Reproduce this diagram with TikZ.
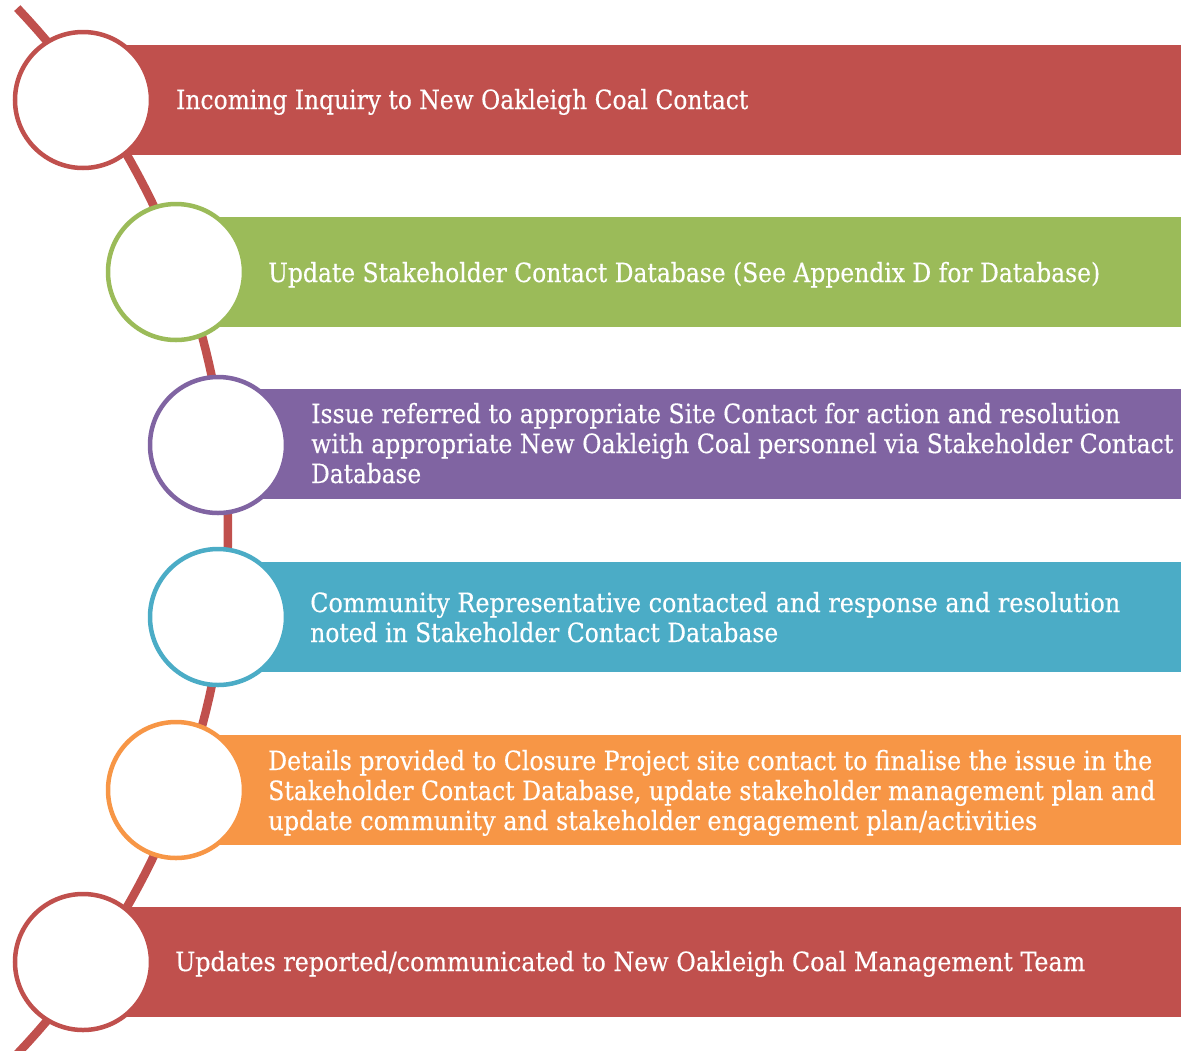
\documentclass[tikz,border=0pt]{standalone}
\usepackage{fontspec}
\usepackage{graphicx}
\setmainfont[FakeBold=0.4]{DejaVu Serif Condensed}
% stretch a line of text horizontally to a given width (in pt), keeping its height
\newcommand\fitl[2]{\resizebox{#1pt}{\height}{#2}}
\definecolor{cRed}{HTML}{C0504D}
\definecolor{cGreen}{HTML}{9BBB59}
\definecolor{cPurple}{HTML}{8064A2}
\definecolor{cAqua}{HTML}{4BACC6}
\definecolor{cOrange}{HTML}{F79646}
\begin{document}
\begin{tikzpicture}[x=1pt,y=-1pt,
  bar/.style={fill=#1,draw=none},
  ring/.style={circle,draw=#1,line width=4.5pt,fill=white,minimum size=136pt,inner sep=0pt},
  txt/.style={text=white,anchor=base west,inner sep=0pt,font=\fontsize{26.5}{30}\selectfont},
  spine/.style={draw=cRed,line width=8.5pt}]
\useasboundingbox (0,0) rectangle (1181,1050);

% the curved spine running behind all the circles
\draw[spine] plot[domain=-42.5:42.5,samples=80] ({-574+802*cos(\x)},{531+774*sin(\x)});

% coloured bars
\fill[bar=cRed]    (84,45)   rectangle (1181,155);
\fill[bar=cGreen]  (176,217) rectangle (1181,327);
\fill[bar=cPurple] (218,389) rectangle (1181,499);
\fill[bar=cAqua]   (218,562) rectangle (1181,672);
\fill[bar=cOrange] (176,735) rectangle (1181,845);
\fill[bar=cRed]    (84,907)  rectangle (1181,1017);

% circles
\node[ring=cRed]    (c1) at (83,100)  {};
\node[ring=cGreen]  (c2) at (176,272) {};
\node[ring=cPurple] (c3) at (218,445) {};
\node[ring=cAqua]   (c4) at (218,617) {};
\node[ring=cOrange] (c5) at (176,790) {};
\node[ring=cRed]    (c6) at (83,962)  {};

% step texts
\node[txt] (t1) at (176,109) {\fitl{572}{Incoming Inquiry to New Oakleigh Coal Contact}};

\node[txt] (t2) at (268,282) {\fitl{832}{Update Stakeholder Contact Database (See Appendix D for Database)}};

\node[txt] (t3a) at (311,423) {\fitl{809}{Issue referred to appropriate Site Contact for action and resolution}};
\node[txt] (t3b) at (311,453) {\fitl{862}{with appropriate New Oakleigh Coal personnel via Stakeholder Contact}};
\node[txt] (t3c) at (311,483) {\fitl{110}{Database}};

\node[txt] (t4a) at (310,612) {\fitl{810}{Community Representative contacted and response and resolution}};
\node[txt] (t4b) at (310,642) {\fitl{468}{noted in Stakeholder Contact Database}};

\node[txt] (t5a) at (268,770) {\fitl{884}{Details provided to Closure Project site contact to finalise the issue in the}};
\node[txt] (t5b) at (268,800) {\fitl{887}{Stakeholder Contact Database, update stakeholder management plan and}};
\node[txt] (t5c) at (268,830) {\fitl{769}{update community and stakeholder engagement plan/activities}};

\node[txt] (t6) at (175,971) {\fitl{910}{Updates reported/communicated to New Oakleigh Coal Management Team}};
\end{tikzpicture}
\end{document}
